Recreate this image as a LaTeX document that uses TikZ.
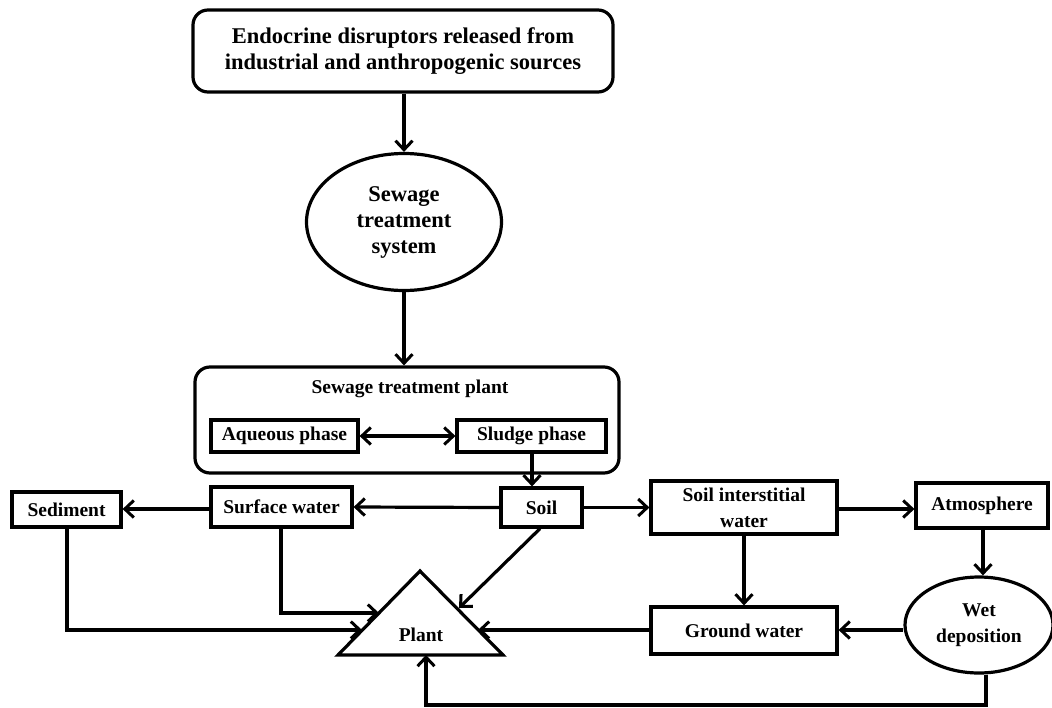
\documentclass[tikz,border=0pt]{standalone}
\usepackage{fontspec}
\setmainfont{Liberation Serif}
\usetikzlibrary{arrows.meta,shapes.geometric,calc}
\begin{document}
\begin{tikzpicture}[x=1pt,y=-1pt,
  every node/.style={font=\fontsize{19.5}{26}\selectfont\bfseries, align=center, inner sep=0pt},
  big/.style={font=\fontsize{22.5}{26}\selectfont\bfseries},
  box/.style={draw, line width=3.2pt},
  rbox/.style={draw, line width=3.2pt, rounded corners=15pt},
  oval/.style={draw, ellipse, line width=3.2pt},
  tip/.tip={Straight Barb[length=9pt,width=17pt,line width=3pt]},
  conn/.style={line width=3.2pt, -tip},
  dconn/.style={line width=3.2pt, tip-tip},
  plainline/.style={line width=3.2pt}
]
\useasboundingbox (0,0) rectangle (1052,707);

\node[rbox, big, minimum width=420pt, minimum height=82pt] (src) at (403,51)
  {Endocrine disruptors released from\\industrial and anthropogenic sources};
\node[oval, big, minimum width=195pt, minimum height=137pt] (sts) at (404,222)
  {Sewage\\treatment\\system};
\node[rbox, minimum width=424pt, minimum height=106pt] (stp) at (407,420) {};
\node (stpl) at (410,389) {Sewage treatment plant};
\node[box, minimum width=147pt, minimum height=32pt] (aq) at (284.5,436) {Aqueous phase};
\node[box, minimum width=149pt, minimum height=32pt] (sl) at (531.5,436) {Sludge phase};
\node[box, minimum width=81pt, minimum height=39pt] (soil) at (541.5,507.5) {Soil};
\node[box, minimum width=141pt, minimum height=40pt] (sw) at (281.5,507) {Surface water};
\node[box, minimum width=109pt, minimum height=35pt] (sed) at (66.5,509.5) {Sediment};
\node[box, minimum width=186pt, minimum height=53pt] (siw) at (744,507.5) {Soil interstitial\\water};
\node[box, minimum width=132pt, minimum height=45pt] (atm) at (982,505.5) {Atmosphere};
\node[oval, minimum width=148pt, minimum height=96pt] (wet) at (979,625) {Wet\\deposition};
\node[box, minimum width=186pt, minimum height=47pt] (gw) at (744,630.5) {Ground water};

% Plant triangle
\coordinate (tA) at (420,571);
\coordinate (tL) at (338,655);
\coordinate (tR) at (503,655);
\draw[plainline, line join=miter] (tA) -- (tL) -- (tR) -- cycle;
\node (plant) at (421,635) {Plant};
\coordinate (pSed) at (362,630);
\coordinate (pSw) at (379,613);
\coordinate (pSoil) at (459,608);
\coordinate (pGw) at (478,630);
\coordinate (pBase) at (426,655);
\coordinate (cSed) at (67,630);
\coordinate (cSw) at (281,613);
\coordinate (cWetA) at (986,705);
\coordinate (cWetB) at (426,705);

\draw[conn] (src.south -| 404,0) -- (sts.north);
\draw[conn] (sts.south) -- (stp.north -| sts.south);
\draw[dconn] (aq.east) -- (sl.west);
\draw[conn] (sl.south -| 532,0) -- (soil.north -| 532,0);
\draw[conn] (soil.west) -- (sw.east);
\draw[conn] (sw.west |- 0,509) -- (sed.east |- 0,509);
\draw[conn] (soil.east) -- (siw.west |- soil.east);
\draw[conn] (siw.east |- 0,509) -- (atm.west |- 0,509);
\draw[conn] (atm.south -| 983,0) -- (wet.north -| 983,0);
\draw[conn] (wet.west |- 0,630) -- (gw.east |- 0,630);
\draw[conn] (siw.south) -- (gw.north);
\draw[conn] (sed.south -| cSed) -- (cSed) -- (pSed);
\draw[conn] (sw.south -| cSw) -- (cSw) -- (pSw);
\draw[conn] (soil.south -| 540,0) -- (pSoil);
\draw[conn] (gw.west |- pGw) -- (pGw);
\draw[conn] (wet.south -| cWetA) -- (cWetA) -- (cWetB) -- (pBase);
\end{tikzpicture}
\end{document}
